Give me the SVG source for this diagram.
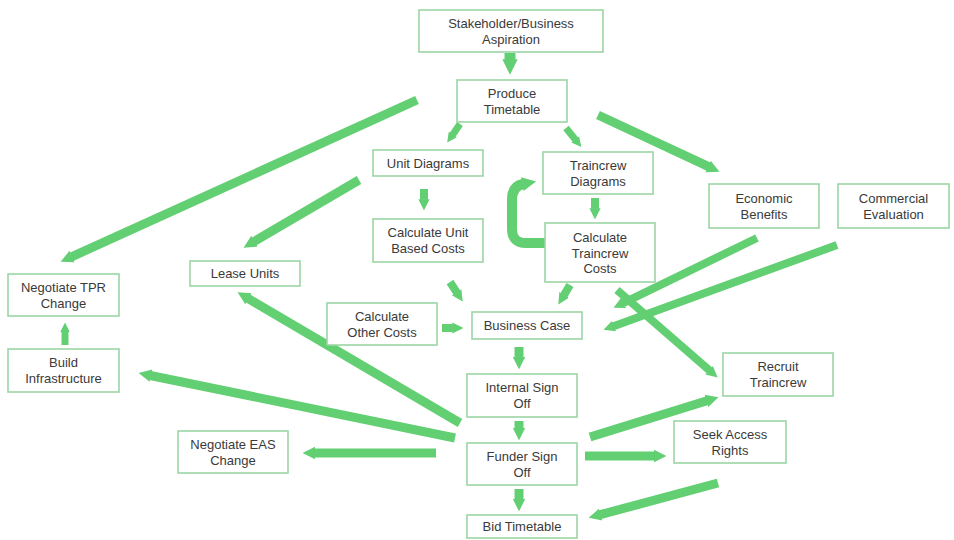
<svg xmlns="http://www.w3.org/2000/svg" width="954" height="540" viewBox="0 0 954 540">
<style>
.box{fill:#ffffff;stroke:#9bd6a4;stroke-width:1.6}
.lbl{font-family:"Liberation Sans",Arial,sans-serif;font-size:13px;fill:#3a3a3a;text-anchor:middle}
.arr{fill:none;stroke:#62cf72;stroke-linecap:butt;marker-end:url(#head)}
</style>
<defs>
<marker id="head" viewBox="0 0 10 10" refX="0.5" refY="5" markerWidth="1.4" markerHeight="2.4" markerUnits="strokeWidth" orient="auto">
<path d="M0,0 L10,5 L0,10 z" fill="#62cf72"/>
</marker>
</defs>
<rect width="954" height="540" fill="#ffffff"/>
<g id="connectors">
<line class="arr" stroke-width="11" x1="510" y1="53" x2="510" y2="60"/>
<line class="arr" stroke-width="7" x1="460" y1="124" x2="452.5" y2="134.9"/>
<line class="arr" stroke-width="7" x1="566" y1="128" x2="575.5" y2="139.7"/>
<line class="arr" stroke-width="9" x1="598" y1="115" x2="708.6" y2="166.7"/>
<line class="arr" stroke-width="9" x1="417" y1="100" x2="71.5" y2="256.8"/>
<line class="arr" stroke-width="9" x1="359" y1="180" x2="253.9" y2="241.6"/>
<line class="arr" stroke-width="8" x1="424" y1="189" x2="424" y2="199.8"/>
<line class="arr" stroke-width="8" x1="595" y1="198" x2="595" y2="208.8"/>
<path class="arr" stroke-width="10" d="M545,243 H526 Q512,243 512,229 V200 Q512,186 523,184"/>
<line class="arr" stroke-width="8" x1="450" y1="282" x2="456.9" y2="292.6"/>
<line class="arr" stroke-width="8" x1="570" y1="285" x2="563.8" y2="295.4"/>
<line class="arr" stroke-width="8" x1="442" y1="328" x2="452.8" y2="328"/>
<line class="arr" stroke-width="8" x1="757" y1="238" x2="623.1" y2="303.1"/>
<line class="arr" stroke-width="8" x1="837" y1="245" x2="613.5" y2="326.2"/>
<line class="arr" stroke-width="8" x1="617" y1="290" x2="709.6" y2="370.6"/>
<line class="arr" stroke-width="9" x1="519" y1="347" x2="519" y2="357.4"/>
<line class="arr" stroke-width="9" x1="519" y1="421" x2="519" y2="428.4"/>
<line class="arr" stroke-width="9" x1="519" y1="489" x2="519" y2="499.4"/>
<line class="arr" stroke-width="9" x1="585" y1="456" x2="654.4" y2="456"/>
<line class="arr" stroke-width="9" x1="590" y1="437" x2="707" y2="400.7"/>
<line class="arr" stroke-width="9" x1="718" y1="483" x2="600.2" y2="514.7"/>
<line class="arr" stroke-width="9" x1="436" y1="453" x2="314.6" y2="453"/>
<line class="arr" stroke-width="9" x1="455" y1="438" x2="150.3" y2="375.5"/>
<line class="arr" stroke-width="9" x1="460" y1="423" x2="247.9" y2="298.4"/>
<line class="arr" stroke-width="7" x1="65" y1="345" x2="65" y2="331.8"/>
</g>
<g id="n-stakeholder"><rect class="box" x="419" y="10" width="184" height="42"/><text class="lbl" x="511" y="27.5">Stakeholder/Business</text><text class="lbl" x="511" y="43.5">Aspiration</text></g>
<g id="n-produce"><rect class="box" x="457" y="80" width="110" height="42"/><text class="lbl" x="512" y="97.5">Produce</text><text class="lbl" x="512" y="113.5">Timetable</text></g>
<g id="n-unitdiag"><rect class="box" x="373" y="150" width="110" height="26"/><text class="lbl" x="428" y="167.5">Unit Diagrams</text></g>
<g id="n-calcunit"><rect class="box" x="373" y="219" width="110" height="43"/><text class="lbl" x="428" y="237">Calculate Unit</text><text class="lbl" x="428" y="253">Based Costs</text></g>
<g id="n-tcdiag"><rect class="box" x="543" y="152" width="110" height="42"/><text class="lbl" x="598" y="169.5">Traincrew</text><text class="lbl" x="598" y="185.5">Diagrams</text></g>
<g id="n-calctc"><rect class="box" x="545" y="223" width="110" height="59"/><text class="lbl" x="600" y="241.5">Calculate</text><text class="lbl" x="600" y="257.5">Traincrew</text><text class="lbl" x="600" y="273">Costs</text></g>
<g id="n-economic"><rect class="box" x="709" y="184" width="110" height="44"/><text class="lbl" x="764" y="202.5">Economic</text><text class="lbl" x="764" y="218.5">Benefits</text></g>
<g id="n-commercial"><rect class="box" x="838" y="184" width="111" height="44"/><text class="lbl" x="893.5" y="202.5">Commercial</text><text class="lbl" x="893.5" y="218.5">Evaluation</text></g>
<g id="n-tpr"><rect class="box" x="8" y="274" width="111" height="42"/><text class="lbl" x="63.5" y="291.5">Negotiate TPR</text><text class="lbl" x="63.5" y="307.5">Change</text></g>
<g id="n-build"><rect class="box" x="8" y="349" width="111" height="43"/><text class="lbl" x="63.5" y="367">Build</text><text class="lbl" x="63.5" y="383">Infrastructure</text></g>
<g id="n-lease"><rect class="box" x="190" y="261" width="110" height="25"/><text class="lbl" x="245" y="278">Lease Units</text></g>
<g id="n-other"><rect class="box" x="327" y="303" width="110" height="42"/><text class="lbl" x="382" y="320.5">Calculate</text><text class="lbl" x="382" y="336.5">Other Costs</text></g>
<g id="n-bc"><rect class="box" x="472" y="312" width="110" height="27"/><text class="lbl" x="527" y="330">Business Case</text></g>
<g id="n-internal"><rect class="box" x="467" y="374" width="110" height="43"/><text class="lbl" x="522" y="392">Internal Sign</text><text class="lbl" x="522" y="408">Off</text></g>
<g id="n-funder"><rect class="box" x="467" y="443" width="110" height="42"/><text class="lbl" x="522" y="460.5">Funder Sign</text><text class="lbl" x="522" y="476.5">Off</text></g>
<g id="n-bid"><rect class="box" x="467" y="515" width="110" height="23"/><text class="lbl" x="522" y="531">Bid Timetable</text></g>
<g id="n-eas"><rect class="box" x="178" y="431" width="110" height="42"/><text class="lbl" x="233" y="448.5">Negotiate EAS</text><text class="lbl" x="233" y="464.5">Change</text></g>
<g id="n-recruit"><rect class="box" x="723" y="353" width="110" height="43"/><text class="lbl" x="778" y="371">Recruit</text><text class="lbl" x="778" y="387">Traincrew</text></g>
<g id="n-seek"><rect class="box" x="674" y="421" width="112" height="42"/><text class="lbl" x="730" y="438.5">Seek Access</text><text class="lbl" x="730" y="454.5">Rights</text></g>
</svg>
